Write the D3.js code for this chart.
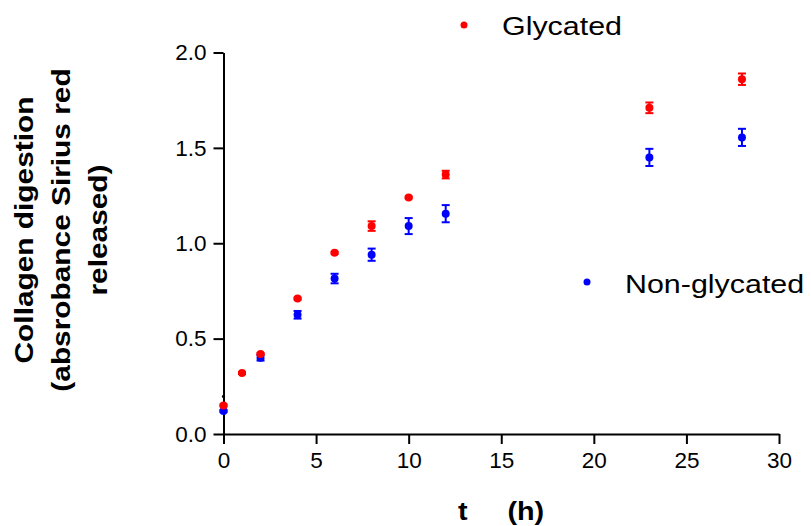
<!DOCTYPE html>
<html>
<head>
<meta charset="utf-8">
<script src="https://cdn.jsdelivr.net/npm/d3@7"></script>
<style>
  body { margin: 0; background: #fff; }
  text { font-family: Arial, "Liberation Sans", sans-serif; }
</style>
</head>
<body>
<div id="chart"></div>
<script>
// data
const tGly = [0, 1, 2, 4, 6, 8, 10, 12, 23, 28];
const gly = [0.15, 0.32, 0.42, 0.71, 0.95, 1.09, 1.24, 1.36, 1.71, 1.86];
const glyErr = [0.005, 0.005, 0.005, 0.005, 0.005, 0.025, 0.005, 0.02, 0.028, 0.03];

const tNon = [0, 2, 4, 6, 8, 10, 12, 23, 28];
const nonGly = [0.12, 0.40, 0.625, 0.815, 0.94, 1.09, 1.155, 1.45, 1.555];
const nonErr = [0.005, 0.015, 0.02, 0.025, 0.032, 0.042, 0.045, 0.045, 0.045];

const xTicks = [0, 5, 10, 15, 20, 25, 30];
const yTicks = [0, 0.5, 1.0, 1.5, 2.0];

const width = 811, height = 526;

const svg = d3.select("#chart")
  .append("svg")
  .attr("width", width)
  .attr("height", height);

const x = d3.scaleLinear().domain([0, 30]).range([223.5, 779]);
const y = d3.scaleLinear().domain([0, 2]).range([434, 52.5]);

// axes
const xAxis = svg.append("g")
  .attr("transform", `translate(0,${y(0)})`)
  .call(d3.axisBottom(x).tickValues(xTicks).tickSize(10).tickPadding(8).tickSizeOuter(0));

const yAxis = svg.append("g")
  .attr("transform", `translate(${x(0)},0)`)
  .call(d3.axisLeft(y).tickValues(yTicks).tickFormat(d3.format(".1f")).tickSize(10).tickPadding(7).tickSizeOuter(0));

[xAxis, yAxis].forEach(a => {
  a.select(".domain").attr("stroke", "#000").attr("stroke-width", 2);
  a.selectAll(".tick line").attr("stroke", "#000").attr("stroke-width", 2);
  a.selectAll(".tick text").attr("fill", "#000").style("font-size", "22.5px");
});

// series
function drawSeries(ts, vals, errs, color) {
  const g = svg.append("g");
  const rows = ts.map((t, i) => ({t: t, v: vals[i], e: errs[i]}));
  const bars = g.selectAll(".eb").data(rows).join("g").attr("class", "eb")
    .attr("stroke", color).attr("stroke-width", 2);
  bars.append("line")
    .attr("x1", d => x(d.t)).attr("x2", d => x(d.t))
    .attr("y1", d => y(d.v - d.e)).attr("y2", d => y(d.v + d.e));
  bars.append("line")
    .attr("x1", d => x(d.t) - 4).attr("x2", d => x(d.t) + 4)
    .attr("y1", d => y(d.v - d.e)).attr("y2", d => y(d.v - d.e));
  bars.append("line")
    .attr("x1", d => x(d.t) - 4).attr("x2", d => x(d.t) + 4)
    .attr("y1", d => y(d.v + d.e)).attr("y2", d => y(d.v + d.e));
  g.selectAll("circle").data(rows).join("circle")
    .attr("cx", d => x(d.t))
    .attr("cy", d => y(d.v))
    .attr("r", 4)
    .attr("fill", color);
}

drawSeries(tNon, nonGly, nonErr, "#0000ff");
drawSeries(tGly, gly, glyErr, "#ff0000");

// small black mark at t=0
svg.append("circle").attr("cx", x(0)).attr("cy", y(0.197)).attr("r", 1.6).attr("fill", "#000");

// legend
function legendItem(cx, cy, tx, ty, color, label) {
  svg.append("circle").attr("cx", cx).attr("cy", cy).attr("r", 3.5).attr("fill", color);
  svg.append("text")
    .attr("transform", `translate(${tx},${ty}) scale(1.17,1)`)
    .style("font-size", "26px")
    .attr("fill", "#000")
    .text(label);
}
legendItem(464, 25, 502, 35, "#ff0000", "Glycated");
legendItem(587, 282, 625, 293, "#0000ff", "Non-glycated");

// axis titles
svg.append("text")
  .attr("transform", "translate(501,520) scale(1.15,1)")
  .attr("text-anchor", "middle")
  .style("font-size", "25px")
  .style("font-weight", "bold")
  .style("white-space", "pre")
  .text("t     (h)");

const yTitle = ["Collagen digestion", "(absrobance Sirius red", "released)"];
const yTitleX = [33, 70, 107];
yTitle.forEach((line, i) => {
  svg.append("text")
    .attr("transform", `translate(${yTitleX[i]},230) rotate(-90) scale(1.17,1)`)
    .attr("text-anchor", "middle")
    .style("font-size", "25.5px")
    .style("font-weight", "bold")
    .text(line);
});
</script>
</body>
</html>
